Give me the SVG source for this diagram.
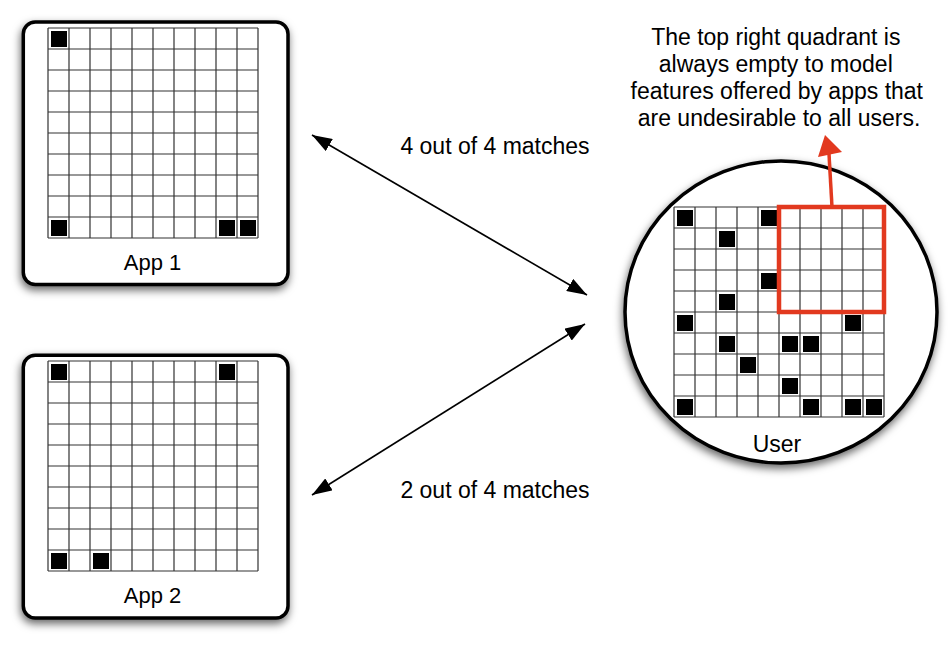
<svg xmlns="http://www.w3.org/2000/svg" width="952" height="645" viewBox="0 0 952 645">
<style>
.frame{fill:#fff;stroke:#000;stroke-width:3.5}
.grid{fill:none;stroke:#333;stroke-width:1.2}
.sq{fill:#000}
.lbl{font-family:"Liberation Sans",Arial,Helvetica,sans-serif;fill:#000;text-anchor:middle}
.conn{stroke:#000;stroke-width:1.6;fill:none}
</style>
<defs>
<filter id="sh" x="-20%" y="-20%" width="140%" height="140%">
<feDropShadow dx="-1" dy="4" stdDeviation="4" flood-color="#000" flood-opacity="0.6"/>
</filter>
<marker id="ah" viewBox="0 0 20 14" refX="20" refY="7" markerWidth="20" markerHeight="14" markerUnits="userSpaceOnUse" orient="auto-start-reverse">
<path d="M0 0L20 7L0 14Z" fill="#000"/>
</marker>
<path id="grid" class="grid" d="M0 0V210M21 0V210M42 0V210M63 0V210M84 0V210M105 0V210M126 0V210M147 0V210M168 0V210M189 0V210M210 0V210M0 0H210M0 21H210M0 42H210M0 63H210M0 84H210M0 105H210M0 126H210M0 147H210M0 168H210M0 189H210M0 210H210"/>
<rect id="sq" class="sq" width="16" height="16"/>
</defs>
<rect width="952" height="645" fill="#fff"/>

<g id="app1">
<rect class="frame" x="23.3" y="22" width="264.7" height="262.5" rx="12" filter="url(#sh)"/>
<g transform="translate(48,28)">
<use href="#grid"/>
<use href="#sq" x="3" y="3"/>
<use href="#sq" x="3" y="192"/>
<use href="#sq" x="171" y="192"/>
<use href="#sq" x="192" y="192"/>
</g>
<text class="lbl" x="152.5" y="270" font-size="22">App 1</text>
</g>

<g id="app2">
<rect class="frame" x="23.3" y="355.3" width="264.7" height="262.7" rx="12" filter="url(#sh)"/>
<g transform="translate(48,361)">
<use href="#grid"/>
<use href="#sq" x="3" y="3"/>
<use href="#sq" x="171" y="3"/>
<use href="#sq" x="3" y="192"/>
<use href="#sq" x="45" y="192"/>
</g>
<text class="lbl" x="152.5" y="603" font-size="22">App 2</text>
</g>

<g id="user">
<ellipse class="frame" cx="781" cy="312" rx="156" ry="151" filter="url(#sh)"/>
<g transform="translate(674,207)">
<use href="#grid"/>
<use href="#sq" x="3" y="3"/>
<use href="#sq" x="87" y="3"/>
<use href="#sq" x="45" y="24"/>
<use href="#sq" x="87" y="66"/>
<use href="#sq" x="45" y="87"/>
<use href="#sq" x="3" y="108"/>
<use href="#sq" x="171" y="108"/>
<use href="#sq" x="45" y="129"/>
<use href="#sq" x="108" y="129"/>
<use href="#sq" x="129" y="129"/>
<use href="#sq" x="66" y="150"/>
<use href="#sq" x="108" y="171"/>
<use href="#sq" x="3" y="192"/>
<use href="#sq" x="129" y="192"/>
<use href="#sq" x="171" y="192"/>
<use href="#sq" x="192" y="192"/>
</g>
<rect x="779" y="207" width="105" height="105" fill="none" stroke="#e2391f" stroke-width="4.5"/>
<text class="lbl" x="777" y="452" font-size="23">User</text>
</g>

<g id="note">
<text class="lbl" font-size="23">
<tspan x="779" y="45">The top right quadrant is</tspan>
<tspan x="779" y="72">always empty to model</tspan>
<tspan x="780" y="99">features offered by apps that</tspan>
<tspan x="779" y="126">are undesirable to all users.</tspan>
</text>
</g>

<g id="connectors">
<line class="conn" x1="312" y1="135" x2="587" y2="295" marker-start="url(#ah)" marker-end="url(#ah)"/>
<line class="conn" x1="585" y1="324" x2="312" y2="495" marker-start="url(#ah)" marker-end="url(#ah)"/>
<path d="M832 207L829 154" stroke="#e2391f" stroke-width="3.5" fill="none"/>
<path d="M825 135L842 152L818 157Z" fill="#e2391f"/>
<text class="lbl" x="495" y="154" font-size="23">4 out of 4 matches</text>
<text class="lbl" x="495" y="498" font-size="23">2 out of 4 matches</text>
</g>
</svg>
